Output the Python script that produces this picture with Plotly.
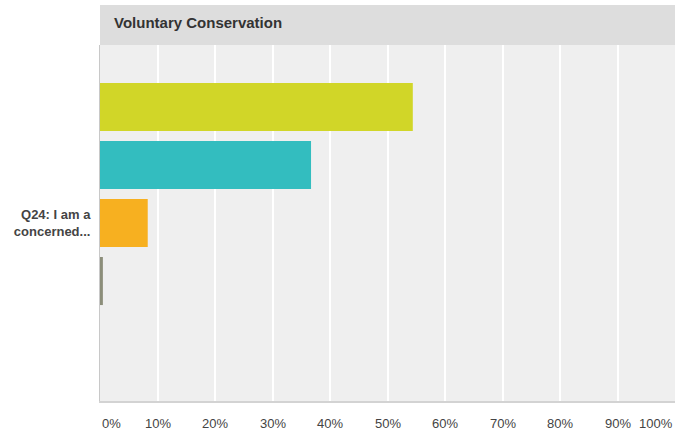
import plotly.graph_objects as go

title = "Voluntary Conservation"
category = ["Q24: I am a<br>concerned..."]
series_names = ["Strongly agree", "Agree", "Neutral", "Disagree", "Strongly disagree"]
series_values = [54.4, 36.7, 8.3, 0.5, 0.0]
series_colors = ["#D1D628", "#33BDBF", "#F7B020", "#8C8E7A", "#5A5A5A"]
tick_values = [0, 10, 20, 30, 40, 50, 60, 70, 80, 90, 100]
tick_labels = ["0%", "10%", "20%", "30%", "40%", "50%", "60%", "70%", "80%", "90%", "100%"]

fig = go.Figure()
for name, val, col in zip(series_names, series_values, series_colors):
    fig.add_trace(go.Bar(
        y=category, x=[val], name=name, orientation="h",
        marker=dict(color=col, line=dict(width=0)),
        hoverinfo="skip",
    ))

W, H = 675, 433
ml, mr, mt, mb = 100, 0, 45, 32
ph = H - mt - mb
FONT = "Liberation Sans, Arial, sans-serif"

annotations = [dict(
    text="<b>" + title + "</b>", x=(111.5 - ml) / (W - ml - mr), y=1 + 22.5 / ph,
    xref="paper", yref="paper", xanchor="left", yanchor="middle", showarrow=False,
    font=dict(family=FONT, size=15, color="#333333"),
)]
for v, lab in zip(tick_values, tick_labels):
    anchor = "left" if v == tick_values[0] else ("right" if v == tick_values[-1] else "center")
    annotations.append(dict(
        text=lab, x=v, y=-22 / ph, xref="x", yref="paper",
        xanchor=anchor, yanchor="middle", showarrow=False,
        font=dict(family=FONT, size=13, color="#444444"),
    ))

fig.update_layout(
    width=W, height=H,
    margin=dict(l=ml, r=mr, t=mt, b=mb, pad=0),
    paper_bgcolor="white", plot_bgcolor="#EFEFEF",
    barmode="group", bargap=0.185, bargroupgap=0.172,
    showlegend=False,
    xaxis=dict(range=[0, 100], tickvals=tick_values, showticklabels=False,
               showgrid=True, gridcolor="white", gridwidth=2, zeroline=False,
               showline=True, linecolor="#D3D3D3", linewidth=2, fixedrange=True),
    yaxis=dict(autorange="reversed", showgrid=False, zeroline=False,
               showline=True, linecolor="#C8C8C8", linewidth=1,
               ticks="outside", ticklen=6, tickcolor="rgba(0,0,0,0)",
               tickfont=dict(family=FONT, size=13, color="#444444"),
               automargin=False, fixedrange=True),
    shapes=[dict(type="rect", xref="paper", yref="paper", x0=0, x1=1,
                 y0=1, y1=1 + 40 / ph, fillcolor="#DDDDDD", line=dict(width=0), layer="below")],
    annotations=annotations,
)

fig.update_yaxes(ticktext=["<b>Q24: I am a<br>concerned...</b>"], tickvals=category)

fig.write_html(
    "out.html",
    config={"displayModeBar": False},
    post_script="document.body.style.margin='0';document.body.style.padding='0';document.body.style.overflow='hidden';",
)
